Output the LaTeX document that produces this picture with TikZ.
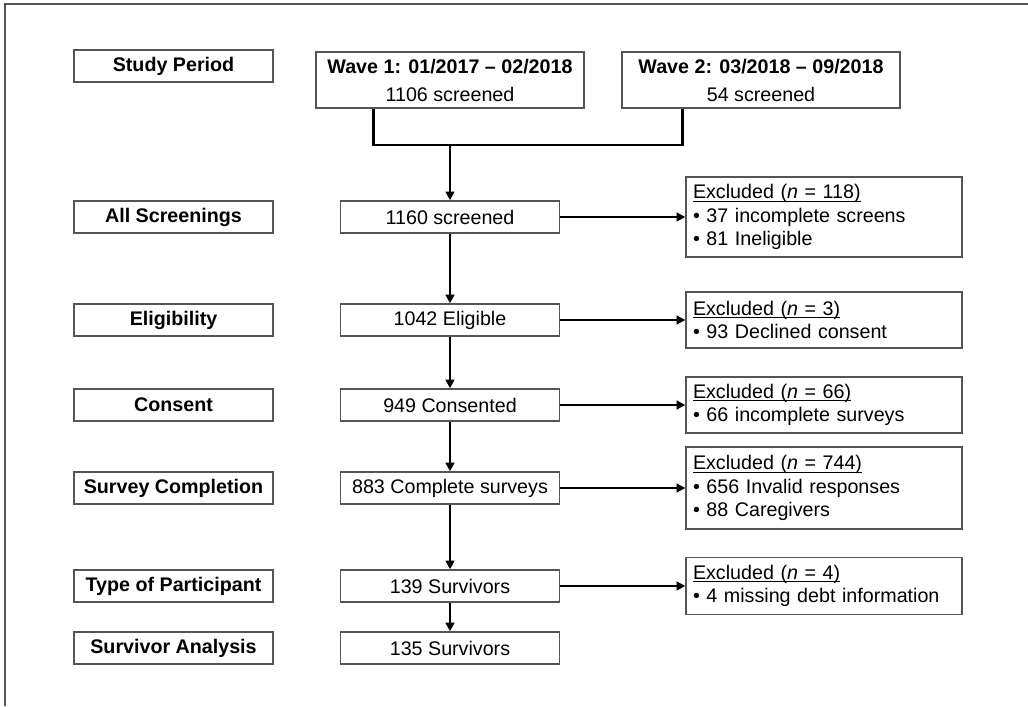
\documentclass[tikz,border=0pt]{standalone}
\usepackage{fontspec}
\setmainfont{Liberation Sans}
\usetikzlibrary{calc, arrows.meta, positioning}
\definecolor{boxgray}{RGB}{85,85,85}
\newcommand{\flowfont}{\fontsize{11.2}{13.4}\selectfont}
% underline that sits just below the baseline
\newcommand{\exhead}[1]{\setbox0\hbox{#1}\rlap{\rule[-1.8pt]{\wd0}{0.6pt}}\box0}

\tikzset{
  stagebox/.style={draw=boxgray, line width=0.8pt, minimum width=3.98cm, minimum height=0.64cm, inner sep=0pt, font=\flowfont\bfseries},
  countbox/.style={draw=boxgray, line width=0.8pt, minimum width=4.38cm, minimum height=0.64cm, inner sep=0pt, font=\flowfont},
  wavebox/.style={draw=boxgray, line width=0.8pt, minimum height=1.12cm, inner sep=0pt, align=center, font=\flowfont},
  exclbox/.style={draw=boxgray, line width=0.8pt, inner xsep=0.14cm, inner ysep=0pt, text width=5.24cm, align=left, font=\flowfont},
  flow/.style={line width=1.5pt, -{Triangle[length=5pt,width=5pt]}},
  link/.style={line width=1.5pt},
}

\begin{document}
\begin{tikzpicture}
  \useasboundingbox (0,0) rectangle (20.56,-14.12);
  % frame
  \draw[boxgray, line width=0.8pt] (0.10,-14.12) -- (0.10,-0.08) -- (20.56,-0.08);

  % stage labels
  \node[stagebox] (lperiod) at (3.47,-1.32) {Study Period};
  \node[stagebox] (lscreen) at (3.47,-4.34) {All Screenings};
  \node[stagebox] (leligible) at (3.47,-6.40) {Eligibility};
  \node[stagebox] (lconsent) at (3.47,-8.10) {Consent};
  \node[stagebox] (lsurvey) at (3.47,-9.76) {Survey Completion};
  \node[stagebox] (ltype) at (3.47,-11.72) {Type of Participant};
  \node[stagebox] (lanalysis) at (3.47,-12.96) {Survivor Analysis};

  % waves
  \node[wavebox, minimum width=5.36cm] (wave1) at (9.00,-1.60) {\textbf{Wave 1: 01/2017 – 02/2018}\\[2.5pt] 1106 screened};
  \node[wavebox, minimum width=5.56cm] (wave2) at (15.22,-1.60) {\textbf{Wave 2: 03/2018 – 09/2018}\\[2.5pt] 54 screened};

  % counts
  \node[countbox] (screened) at (9.00,-4.34) {1160 screened};
  \node[countbox] (eligible) at (9.00,-6.40) {1042 Eligible};
  \node[countbox] (consented) at (9.00,-8.10) {949 Consented};
  \node[countbox] (completed) at (9.00,-9.76) {883 Complete surveys};
  \node[countbox] (survivors) at (9.00,-11.72) {139 Survivors};
  \node[countbox] (analysed) at (9.00,-12.96) {135 Survivors};

  % exclusions
  \node[exclbox, minimum height=1.60cm] (ex1) at (16.48,-4.34)
    {\exhead{Excluded (\textit{n} = 118)}\\ • 37 incomplete screens\\ • 81 Ineligible};
  \node[exclbox, minimum height=1.12cm] (ex2) at (16.48,-6.40)
    {\exhead{Excluded (\textit{n} = 3)}\\ • 93 Declined consent};
  \node[exclbox, minimum height=1.12cm] (ex3) at (16.48,-8.10)
    {\exhead{Excluded (\textit{n} = 66)}\\ • 66 incomplete surveys};
  \node[exclbox, minimum height=1.64cm] (ex4) at (16.48,-9.76)
    {\exhead{Excluded (\textit{n} = 744)}\\ • 656 Invalid responses\\ • 88 Caregivers};
  \node[exclbox, minimum height=1.14cm] (ex5) at (16.48,-11.72)
    {\exhead{Excluded (\textit{n} = 4)}\\ • 4 missing debt information};

  % merge of the two waves
  \coordinate (j1) at ($(wave1.south west)+(1.16,0)$);
  \coordinate (j2) at ($(wave2.south west)+(1.22,0)$);
  \coordinate (merge) at (9.00,-2.90);
  \draw[link] (j1) |- (merge) -| (j2);
  \draw[flow] (merge) -- (screened.north);

  % main flow
  \draw[flow] (screened) -- (eligible);
  \draw[flow] (eligible) -- (consented);
  \draw[flow] (consented) -- (completed);
  \draw[flow] (completed) -- (survivors);
  \draw[flow] (survivors) -- (analysed);

  % exclusions
  \draw[flow] (screened.east) -- (ex1.west);
  \draw[flow] (eligible.east) -- (ex2.west);
  \draw[flow] (consented.east) -- (ex3.west);
  \draw[flow] (completed.east) -- (ex4.west);
  \draw[flow] (survivors.east) -- (ex5.west);
\end{tikzpicture}
\end{document}
